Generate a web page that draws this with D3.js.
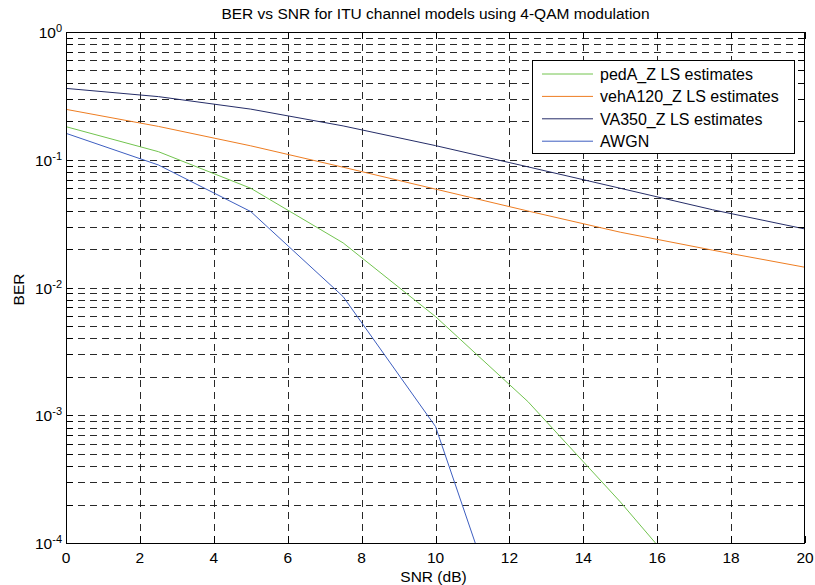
<!DOCTYPE html>
<html>
<head>
<meta charset="utf-8">
<script src="https://cdn.jsdelivr.net/npm/d3@7"></script>
<style>
  html, body { margin: 0; padding: 0; background: #fff; }
  text { font-family: "Liberation Sans", Arial, sans-serif; fill: #000; }
</style>
</head>
<body>
<svg id="chart" width="815" height="585"></svg>
<script>
// ---- data ----
const snr = [0, 2.5, 5, 7.5, 10, 12.5, 15, 17.5, 20];
const pedA = [0.1815, 0.1157, 0.0598, 0.02234, 0.00592, 0.00128, 0.00021, 0.00003, null];
const vehA120 = [0.248, 0.1824, 0.1285, 0.0874, 0.0589, 0.0397, 0.0271, 0.0196, 0.0144];
const va350 = [0.362, 0.312, 0.249, 0.184, 0.129, 0.088, 0.0598, 0.0406, 0.0287];
const awgn = [0.161, 0.091, 0.0393, 0.00849, 0.000816, 0.0000062, null, null, null];

const seriesNames = ["pedA_Z LS estimates", "vehA120_Z LS estimates", "VA350_Z LS estimates", "AWGN"];
const seriesValues = [pedA, vehA120, va350, awgn];
const seriesColors = ["#72c44f", "#ee7d22", "#252d68", "#3d5ec0"];

const xTicks = [0, 2, 4, 6, 8, 10, 12, 14, 16, 18, 20];
const yExponents = [0, -1, -2, -3, -4];

const titleText = "BER vs SNR for ITU channel models using 4-QAM modulation";
const xLabelText = "SNR (dB)";
const yLabelText = "BER";

// ---- layout ----
const L = 66, R = 805, T = 32, B = 543;
const FS = 15.5;
const svg = d3.select("#chart");
const x = d3.scaleLinear().domain([0, 20]).range([L, R]);
const y = d3.scaleLog().domain([1e-4, 1]).range([B, T]);

// minor log positions
const yGrid = [];
for (let e = -4; e < 0; e++) for (let k = 1; k <= 9; k++) yGrid.push(k * Math.pow(10, e));
yGrid.push(1);

const px = v => Math.round(v) + 0.5;

// grid
const grid = svg.append("g");
grid.selectAll(".gx").data(xTicks.slice(1, -1)).join("line")
  .attr("x1", d => px(x(d))).attr("x2", d => px(x(d)))
  .attr("y1", T).attr("y2", B)
  .attr("stroke", "#111").attr("stroke-width", 0.9).attr("stroke-dasharray", "7,5");
grid.selectAll(".gy").data(yGrid.filter(d => d > 1e-4 && d < 1)).join("line")
  .attr("x1", L).attr("x2", R)
  .attr("y1", d => px(y(d))).attr("y2", d => px(y(d)))
  .attr("stroke", "#111").attr("stroke-width", 0.9).attr("stroke-dasharray", "7,5");

// clip
svg.append("clipPath").attr("id", "clip").append("rect")
  .attr("x", L).attr("y", T).attr("width", R - L).attr("height", B - T);

// lines
const line = d3.line()
  .defined(d => d[1] != null)
  .x(d => x(d[0])).y(d => y(d[1]));
const lines = svg.append("g").attr("clip-path", "url(#clip)");
seriesValues.forEach((vals, i) => {
  lines.append("path")
    .datum(snr.map((s, j) => [s, vals[j]]))
    .attr("d", line)
    .attr("fill", "none")
    .attr("stroke", seriesColors[i])
    .attr("stroke-width", 1);
});

// axes box
svg.append("rect")
  .attr("x", L + 0.5).attr("y", T + 0.5).attr("width", R - L - 1).attr("height", B - T)
  .attr("fill", "none").attr("stroke", "#000").attr("stroke-width", 1);

// ticks
const tickLen = 7;
const ticks = svg.append("g").attr("stroke", "#000").attr("stroke-width", 1);
xTicks.forEach(d => {
  const xx = px(x(d));
  ticks.append("line").attr("x1", xx).attr("x2", xx).attr("y1", B).attr("y2", B - tickLen);
  ticks.append("line").attr("x1", xx).attr("x2", xx).attr("y1", T).attr("y2", T + tickLen);
});
yGrid.forEach(d => {
  const yy = px(y(d));
  ticks.append("line").attr("x1", L).attr("x2", L + tickLen).attr("y1", yy).attr("y2", yy);
  ticks.append("line").attr("x1", R).attr("x2", R - tickLen).attr("y1", yy).attr("y2", yy);
});

// x tick labels
svg.append("g").selectAll("text").data(xTicks).join("text")
  .attr("x", d => x(d)).attr("y", B + 20)
  .attr("text-anchor", "middle").attr("font-size", FS)
  .text(d => d);

// y tick labels: 10^e
const yl = svg.append("g");
yExponents.forEach(e => {
  const t = yl.append("text")
    .attr("x", 62).attr("y", y(Math.pow(10, e)) + 6)
    .attr("text-anchor", "end").attr("font-size", FS);
  t.append("tspan").text("10");
  t.append("tspan").attr("font-size", 11).attr("dy", -6).text(String(e));
});

// title & labels
svg.append("text").attr("x", (L + R) / 2).attr("y", 19)
  .attr("text-anchor", "middle").attr("font-size", FS).text(titleText);
svg.append("text").attr("x", (L + R) / 2 - 2).attr("y", 582)
  .attr("text-anchor", "middle").attr("font-size", FS).text(xLabelText);
svg.append("text").attr("transform", `translate(24, ${(T + B) / 2 + 2}) rotate(-90)`)
  .attr("text-anchor", "middle").attr("font-size", FS).text(yLabelText);

// legend
const lg = svg.append("g");
lg.append("rect").attr("x", 532.5).attr("y", 60.5).attr("width", 262).attr("height", 93)
  .attr("fill", "#fff").attr("stroke", "#000").attr("stroke-width", 1);
seriesNames.forEach((n, i) => {
  const cy = 74 + i * 22.4;
  lg.append("line").attr("x1", 542).attr("x2", 593).attr("y1", cy).attr("y2", cy)
    .attr("stroke", seriesColors[i]).attr("stroke-width", 1);
  lg.append("text").attr("x", 600).attr("y", cy + 6).attr("font-size", 16).text(n);
});
</script>
</body>
</html>
